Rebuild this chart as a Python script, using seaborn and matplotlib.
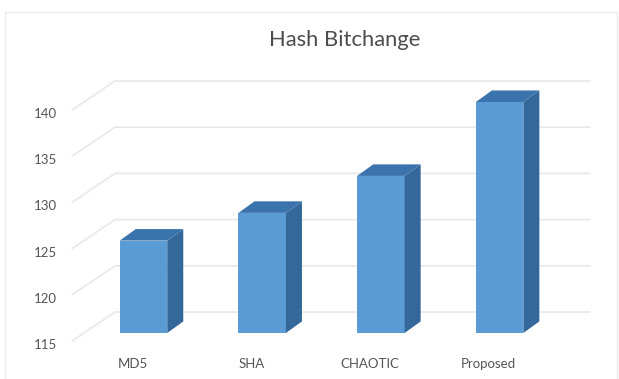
import matplotlib
matplotlib.use("Agg")
import matplotlib.pyplot as plt
import matplotlib.transforms as mtrans
from matplotlib.patches import Polygon, Rectangle
import pandas as pd
import seaborn as sns

categories = ["MD5", "SHA", "CHAOTIC", "Proposed"]
hash_bitchange = [125, 128, 132, 140]
y_ticks = [115, 120, 125, 130, 135, 140]

FRONT = "#5b9bd5"
SIDE = "#35689a"
TOP = "#3b74ad"
GRID = "#e8e8e8"
TEXT = "#555555"

W, H = 619, 379
sns.set_theme(style="white")
plt.rcParams["font.family"] = ["Lato", "DejaVu Sans"]

fig = plt.figure(figsize=(W / 100, H / 100), dpi=100, facecolor="white")
ax = fig.add_axes([84.15 / W, (H - 333) / H, 474.8 / W, 231 / H])
ax.patch.set_alpha(0)

# chart frame
fig.add_artist(Rectangle((5 / W, -0.02), 612 / W, (H - 12) / H + 0.02,
                         transform=fig.transFigure, fill=False,
                         edgecolor="#ebebeb", linewidth=1.0))

df = pd.DataFrame({"method": categories, "bitchange": hash_bitchange})
sns.barplot(data=df, x="method", y="bitchange", color=FRONT, saturation=1,
            width=0.4, ax=ax, zorder=3, linewidth=0, edgecolor="none")
ax.set_xlim(-0.5, 3.5)
ax.set_ylim(115, 140)

# pseudo-3D box depth, in axis units
depth_x, depth_y = 0.135, 1.25
for bar in ax.patches:
    x0, x1 = bar.get_x(), bar.get_x() + bar.get_width()
    top = bar.get_height()
    base = ax.get_ylim()[0]
    ax.add_patch(Polygon([(x1, base), (x1 + depth_x, base + depth_y),
                          (x1 + depth_x, top + depth_y), (x1, top)],
                         closed=True, facecolor=SIDE, edgecolor="none",
                         zorder=3, clip_on=False))
    ax.add_patch(Polygon([(x0, top), (x0 + depth_x, top + depth_y),
                          (x1 + depth_x, top + depth_y), (x1, top)],
                         closed=True, facecolor=TOP, edgecolor="none",
                         zorder=3, clip_on=False))
    bar.set_clip_on(True)

# back wall gridlines with the receding side-wall segment
for v in y_ticks:
    ax.plot([-0.60, -0.24, 3.76], [v - 0.85, v + 2.27, v + 2.27],
            color=GRID, linewidth=1.2, zorder=1, clip_on=False,
            solid_joinstyle="miter")

sns.despine(ax=ax, left=True, bottom=True)
ax.set_xlabel("")
ax.set_ylabel("")
ax.set_yticks(y_ticks)
ax.set_xticks(range(len(categories)))
ax.set_xticklabels(categories)
ax.tick_params(axis="both", length=0, labelsize=9.5, labelcolor=TEXT)

# axis labels sit on the front plane of the box, so shift them off the bars
ytrans = mtrans.ScaledTranslation(-22 / 100, -11 / 100, fig.dpi_scale_trans)
for lab in ax.get_yticklabels():
    lab.set_transform(lab.get_transform() + ytrans)
xtrans = mtrans.ScaledTranslation(-11 / 100, -20.5 / 100, fig.dpi_scale_trans)
for lab in ax.get_xticklabels():
    lab.set_transform(lab.get_transform() + xtrans)

ax.set_title("Hash Bitchange", x=0.548, y=1.243, fontsize=15.8, color="#4d4d4d",
             va="baseline", ha="center", pad=0)

fig.savefig("out.png", dpi=100, facecolor="white")
